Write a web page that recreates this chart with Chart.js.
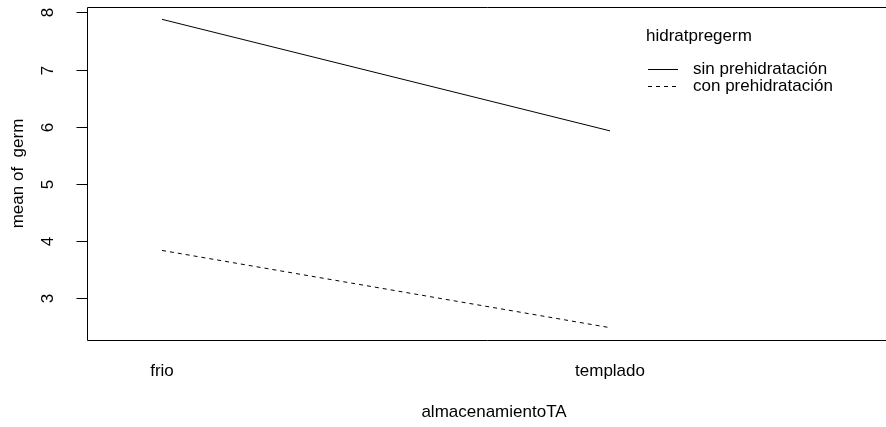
<!DOCTYPE html>
<html>
<head>
<meta charset="utf-8">
<title>mean of germ</title>
<script src="https://cdn.jsdelivr.net/npm/chart.js@4/dist/chart.umd.min.js"></script>
<style>
  html, body { margin: 0; padding: 0; background: #ffffff; }
  #wrap { width: 886px; height: 427px; }
</style>
</head>
<body>
<div id="wrap"><canvas id="c" width="886" height="427"></canvas></div>
<script>
// storage treatment levels (x factor)
const categories = ['frio', 'templado'];
// mean germination per level, one series per hydration treatment
const sinPrehidratacion = [7.88, 5.93];
const conPrehidratacion = [3.84, 2.49];
const seriesNames = ['sin prehidratación', 'con prehidratación'];
const legendTitle = 'hidratpregerm';
const yTicks = [3, 4, 5, 6, 7, 8];
const xTitle = 'almacenamientoTA';
const yTitle = 'mean of  germ';

const FONT = '17px "Liberation Sans", Arial, sans-serif';

// y range: data range widened by 4% on each side
const allVals = sinPrehidratacion.concat(conPrehidratacion);
const lo = Math.min(...allVals), hi = Math.max(...allVals);
const pad = (hi - lo) * 0.04;

const toPoints = arr => arr.map((v, i) => ({ x: i + 1, y: v }));

const baseAxes = {
  id: 'baseAxes',
  afterDraw(chart) {
    const { ctx, chartArea: a, scales: { x, y } } = chart;
    ctx.save();
    ctx.strokeStyle = '#000';
    ctx.lineWidth = 1;
    ctx.setLineDash([]);
    // box (right edge falls off the canvas)
    const L = Math.round(a.left) + 0.5, T = Math.round(a.top) + 0.5, B = Math.round(a.bottom) + 0.5;
    ctx.beginPath();
    ctx.moveTo(chart.width + 2, T);
    ctx.lineTo(L, T);
    ctx.lineTo(L, B);
    ctx.lineTo(chart.width + 2, B);
    ctx.stroke();

    // y ticks and rotated labels
    ctx.fillStyle = '#000';
    ctx.font = FONT;
    ctx.textAlign = 'center';
    ctx.textBaseline = 'middle';
    yTicks.forEach(v => {
      const py = Math.round(y.getPixelForValue(v)) + 0.5;
      ctx.beginPath();
      ctx.moveTo(L - 11, py);
      ctx.lineTo(L, py);
      ctx.stroke();
      ctx.save();
      ctx.translate(48, py);
      ctx.rotate(-Math.PI / 2);
      ctx.fillText(String(v), 0, 0);
      ctx.restore();
    });

    // x category labels
    categories.forEach((c, i) => {
      ctx.fillText(c, x.getPixelForValue(i + 1), 371);
    });

    // axis titles
    ctx.fillText(xTitle, 494, 412);
    ctx.save();
    ctx.translate(18, (a.top + a.bottom) / 2);
    ctx.rotate(-Math.PI / 2);
    ctx.fillText(yTitle, 0, 0);
    ctx.restore();

    // legend
    ctx.textAlign = 'left';
    ctx.fillText(legendTitle, 646, 36);
    chart.data.datasets.forEach((ds, i) => {
      const ly = 69.5 + i * 17;
      ctx.beginPath();
      ctx.setLineDash(ds.borderDash || []);
      ctx.moveTo(648, ly);
      ctx.lineTo(678, ly);
      ctx.stroke();
      ctx.setLineDash([]);
      ctx.fillText(ds.label, 693, ly);
    });
    ctx.restore();
  }
};

new Chart(document.getElementById('c'), {
  type: 'line',
  data: {
    datasets: [
      {
        label: seriesNames[0],
        data: toPoints(sinPrehidratacion),
        borderColor: '#000',
        borderWidth: 1,
        pointRadius: 0,
        tension: 0,
        fill: false
      },
      {
        label: seriesNames[1],
        data: toPoints(conPrehidratacion),
        borderColor: '#000',
        borderWidth: 1,
        borderDash: [4, 4],
        pointRadius: 0,
        tension: 0,
        fill: false
      }
    ]
  },
  options: {
    responsive: false,
    animation: false,
    devicePixelRatio: 1,
    layout: { padding: { left: 87, top: 7, right: 0, bottom: 87 } },
    scales: {
      x: { type: 'linear', display: false, min: 0.8326, max: 2.616 },
      y: { type: 'linear', display: false, min: lo - pad, max: hi + pad }
    },
    plugins: { legend: { display: false }, tooltip: { enabled: false } }
  },
  plugins: [baseAxes]
});
</script>
</body>
</html>
